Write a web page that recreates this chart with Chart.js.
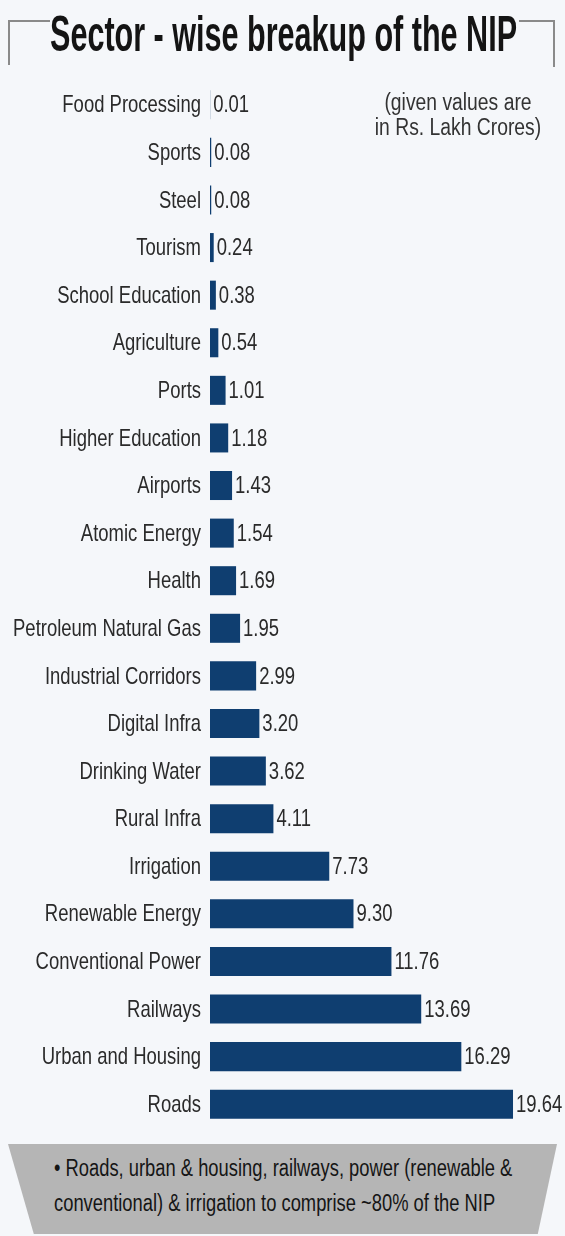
<!DOCTYPE html>
<html>
    <head>
        <meta charset="utf-8">
        <title>Sector - wise breakup of the NIP</title>
        <script src="https://cdn.jsdelivr.net/npm/chart.js@4.4.0/dist/chart.umd.min.js"></script>
    </head>
    <style>
        html, body {
            margin: 0;
            padding: 0;
            background: #f5f7fa;
        }

        #wrap {
            position: relative;
            width: 565px;
            height: 1236px;
            overflow: hidden;
        }

        #nipChart {
            position: absolute;
            left: 0;
            top: 0;
        }

        #title {
            position: absolute;
            left: 50px;
            top: 4px;
            font-family: "Liberation Sans", sans-serif;
            font-weight: bold;
            font-size: 50px;
            line-height: 60px;
            color: #141414;
            white-space: nowrap;
            transform-origin: left top;
        }

        .frame {
            position: absolute;
            border-color: #8a8a8a;
            border-style: solid;
            border-width: 0;
        }

        #note {
            position: absolute;
            left: 358px;
            top: 90px;
            width: 200px;
            text-align: center;
            font-family: "Liberation Sans", sans-serif;
            font-size: 23px;
            line-height: 25px;
            color: #333;
            white-space: nowrap;
            transform: scaleX(0.84);
            transform-origin: center top;
        }

        #banner {
            position: absolute;
            left: 8px;
            top: 1144px;
            width: 549px;
            height: 90px;
            background: #b5b5b5;
            clip-path: polygon(0 0, 100% 0, 96.5% 100%, 4.7% 100%);
        }

        #bannerText {
            position: absolute;
            left: 46px;
            top: 7px;
            font-family: "Liberation Sans", sans-serif;
            font-size: 23px;
            line-height: 35px;
            color: #151515;
            white-space: nowrap;
            transform-origin: left top;
        }
    </style>
    <body>
        <div id="wrap">
            <canvas id="nipChart" width="565" height="1236"></canvas>
            <div class="frame" style="left:8px; top:20px; width:40px; height:43px; border-top-width:2px; border-left-width:2px;"></div>
            <div class="frame" style="left:519px; top:20px; width:34px; height:45px; border-top-width:2px; border-right-width:2px;"></div>
            <div id="title">Sector - wise breakup of the NIP</div>
            <div id="note">(given values are<br>in Rs. Lakh Crores)</div>
            <div id="banner"><div id="bannerText">• Roads, urban &amp; housing, railways, power (renewable &amp;<br>conventional) &amp; irrigation to comprise ~80% of the NIP</div></div>
        </div>
        <script>
        const sectors = [
            "Food Processing", "Sports", "Steel", "Tourism", "School Education",
            "Agriculture", "Ports", "Higher Education", "Airports", "Atomic Energy",
            "Health", "Petroleum Natural Gas", "Industrial Corridors", "Digital Infra",
            "Drinking Water", "Rural Infra", "Irrigation", "Renewable Energy",
            "Conventional Power", "Railways", "Urban and Housing", "Roads"
        ];
        const lakhCrores = [
            0.01, 0.08, 0.08, 0.24, 0.38,
            0.54, 1.01, 1.18, 1.43, 1.54,
            1.69, 1.95, 2.99, 3.20,
            3.62, 4.11, 7.73, 9.30,
            11.76, 13.69, 16.29, 19.64
        ];
        const barColor = "#0f3e70";
        const textColor = "#2a2a2a";
        const labelFont = "24px 'Liberation Sans', sans-serif";
        const squeeze = 0.77; // the print face is a condensed one

        // fit the html texts to the widths used in the print layout
        const title = document.getElementById('title');
        title.style.transform = 'scaleX(' + (467 / title.scrollWidth) + ')';
        const bannerText = document.getElementById('bannerText');
        bannerText.style.transform = 'scaleX(' + (458 / bannerText.scrollWidth) + ')';

        function squeezedText(ctx, text, x, y, align) {
            ctx.save();
            ctx.translate(x, y);
            ctx.scale(squeeze, 1);
            ctx.textAlign = align;
            ctx.fillText(text, 0, 0);
            ctx.restore();
        }

        // category names and values, placed from the chart's own scale and bars
        const condensedLabels = {
            id: 'condensedLabels',
            afterDatasetsDraw(chart) {
                const ctx = chart.ctx;
                const yScale = chart.scales.y;
                const meta = chart.getDatasetMeta(0);
                ctx.save();
                ctx.font = labelFont;
                ctx.fillStyle = textColor;
                ctx.textBaseline = "middle";
                yScale.ticks.forEach((tick, i) => {
                    squeezedText(ctx, chart.data.labels[tick.value], yScale.right - 9, yScale.getPixelForTick(i) + 1, "right");
                });
                meta.data.forEach((bar, i) => {
                    squeezedText(ctx, lakhCrores[i].toFixed(2), bar.x + 3, bar.y + 1, "left");
                });
                ctx.restore();
            }
        };

        const ctx = document.getElementById('nipChart').getContext('2d');
        new Chart(ctx, {
            type: 'bar',
            data: {
                labels: sectors,
                datasets: [{
                    data: lakhCrores,
                    backgroundColor: barColor,
                    borderWidth: 0,
                    barPercentage: 0.61,
                    categoryPercentage: 1
                }]
            },
            options: {
                indexAxis: 'y',
                responsive: false,
                animation: false,
                layout: { padding: { top: 81, bottom: 108, left: 0, right: 31 } },
                plugins: {
                    legend: { display: false },
                    tooltip: { enabled: false }
                },
                scales: {
                    x: {
                        display: false,
                        min: 0,
                        max: 21
                    },
                    y: {
                        afterFit(scale) { scale.width = 210; },
                        grid: { display: false, drawTicks: false },
                        border: { display: false },
                        ticks: { display: false, autoSkip: false }
                    }
                }
            },
            plugins: [condensedLabels]
        });
        </script>
    </body>
</html>
